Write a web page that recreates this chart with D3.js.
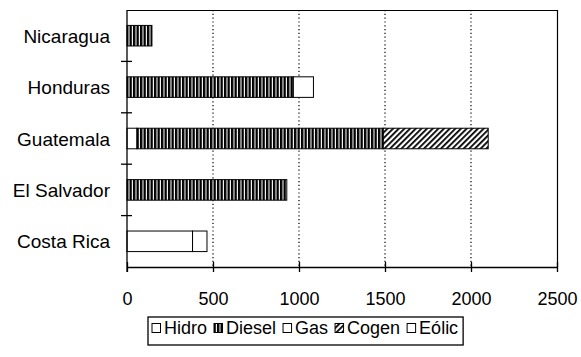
<!DOCTYPE html>
<html>
<head>
<meta charset="utf-8">
<script src="https://cdn.jsdelivr.net/npm/d3@7"></script>
<style>
  html, body { margin: 0; padding: 0; background: #fff; }
  svg { display: block; }
  text { font-family: "Liberation Sans", Arial, Helvetica, sans-serif; fill: #000; }
</style>
</head>
<body>
<svg id="chart" width="581" height="357"></svg>
<script>
// Installed capacity by country and source
const countries = ["Nicaragua", "Honduras", "Guatemala", "El Salvador", "Costa Rica"];
const seriesNames = ["Hidro", "Diesel", "Gas", "Cogen", "Eólic"];
const hidro  = [0,   0,   58,   0,   381];
const diesel = [145, 967, 1432, 929, 0];
const gas    = [0,   117, 0,    0,   84];
const cogen  = [0,   0,   610,  0,   0];
const eolic  = [0,   0,   0,    0,   0];
const xTicks = [0, 500, 1000, 1500, 2000, 2500];

const seriesValues = [hidro, diesel, gas, cogen, eolic];
const rows = countries.map((c, i) => {
  const r = { country: c };
  seriesNames.forEach((s, j) => { r[s] = seriesValues[j][i]; });
  return r;
});
const stacked = d3.stack().keys(seriesNames)(rows);

const svg = d3.select("#chart");
const plot = { left: 127, right: 557, top: 10, bottom: 267 };

const x = d3.scaleLinear().domain([0, 2500]).range([plot.left, plot.right]);
const y = d3.scaleBand().domain(countries).range([plot.top, plot.bottom])
  .paddingInner(0.6).paddingOuter(0.3);

// Fill patterns
const defs = svg.append("defs");
const pDiesel = defs.append("pattern").attr("id", "pDiesel")
  .attr("patternUnits", "userSpaceOnUse").attr("width", 3.5).attr("height", 10);
pDiesel.append("rect").attr("width", 3.5).attr("height", 10).attr("fill", "#000");
pDiesel.append("rect").attr("x", 2.4).attr("width", 1.1).attr("height", 10).attr("fill", "#fff");

const pCogen = defs.append("pattern").attr("id", "pCogen")
  .attr("patternUnits", "userSpaceOnUse").attr("width", 4).attr("height", 4)
  .attr("patternTransform", "rotate(45)");
pCogen.append("rect").attr("width", 4).attr("height", 4).attr("fill", "#fff");
pCogen.append("rect").attr("width", 1.8).attr("height", 4).attr("fill", "#000");

const fills = {
  "Hidro": "#fff",
  "Diesel": "url(#pDiesel)",
  "Gas": "#fff",
  "Cogen": "url(#pCogen)",
  "Eólic": "#fff"
};

// Dotted vertical gridlines
svg.append("g").selectAll("line")
  .data(xTicks.filter(t => t > 0 && t < 2500))
  .join("line")
  .attr("x1", d => x(d)).attr("x2", d => x(d))
  .attr("y1", plot.top).attr("y2", plot.bottom)
  .attr("stroke", "#000").attr("stroke-width", 1.2)
  .attr("stroke-dasharray", "1.2,2.6");

// Plot frame (top and right)
svg.append("path")
  .attr("d", `M${plot.left},${plot.top + 0.5}H${plot.right + 0.5}V${plot.bottom}`)
  .attr("fill", "none").attr("stroke", "#000").attr("stroke-width", 1.2);

// Bars
svg.append("g").selectAll("g")
  .data(stacked)
  .join("g")
  .attr("fill", d => fills[d.key])
  .selectAll("rect")
  .data(d => d.filter(s => s[1] - s[0] > 0))
  .join("rect")
  .attr("x", d => x(d[0]))
  .attr("width", d => x(d[1]) - x(d[0]))
  .attr("y", d => y(d.data.country))
  .attr("height", y.bandwidth())
  .attr("stroke", "#000").attr("stroke-width", 1);

// Bottom axis
const xAxis = d3.axisBottom(x).tickValues(xTicks).tickSize(0).tickPadding(0);
const gx = svg.append("g").attr("transform", `translate(0,${plot.bottom})`).call(xAxis);
gx.select(".domain").attr("stroke", "#000").attr("stroke-width", 1.3);
gx.selectAll(".tick text").remove();
gx.selectAll(".tick").append("line")
  .attr("y1", -5).attr("y2", 5).attr("stroke", "#000").attr("stroke-width", 1.3);
gx.selectAll(".tick").append("text")
  .attr("y", 38)
  .attr("text-anchor", "middle")
  .style("font-size", "18px")
  .text(d => d);

// Left axis: crossing ticks at category boundaries
svg.append("line")
  .attr("x1", plot.left).attr("x2", plot.left)
  .attr("y1", plot.top).attr("y2", plot.bottom + 5)
  .attr("stroke", "#000").attr("stroke-width", 1.3);
const step = y.step();
const boundaries = countries.slice(1).map(c => y(c) - step * y.paddingInner() / 2);
svg.append("g").selectAll("line")
  .data(boundaries)
  .join("line")
  .attr("x1", plot.left - 6).attr("x2", plot.left + 5)
  .attr("y1", d => d).attr("y2", d => d)
  .attr("stroke", "#000").attr("stroke-width", 1.3);

// Category labels
svg.append("g").selectAll("text")
  .data(countries)
  .join("text")
  .attr("x", 110)
  .attr("y", d => y(d) + y.bandwidth() / 2 + 7)
  .attr("text-anchor", "end")
  .style("font-size", "19px")
  .text(d => d);

// Legend
const legend = svg.append("g");
const legendBox = legend.append("rect")
  .attr("x", 148).attr("y", 317).attr("width", 319).attr("height", 28)
  .attr("fill", "#fff").attr("stroke", "#000").attr("stroke-width", 1.3);
let lx = 152;
seriesNames.forEach(name => {
  legend.append("rect")
    .attr("x", lx).attr("y", 323.5).attr("width", 8.5).attr("height", 9)
    .attr("fill", fills[name]).attr("stroke", "#000").attr("stroke-width", 1);
  const t = legend.append("text")
    .attr("x", lx + 12).attr("y", 334)
    .style("font-size", "18px")
    .text(name);
  lx += 12 + t.node().getComputedTextLength() + 7;
});
legendBox.attr("width", lx - 148 - 2);
</script>
</body>
</html>
